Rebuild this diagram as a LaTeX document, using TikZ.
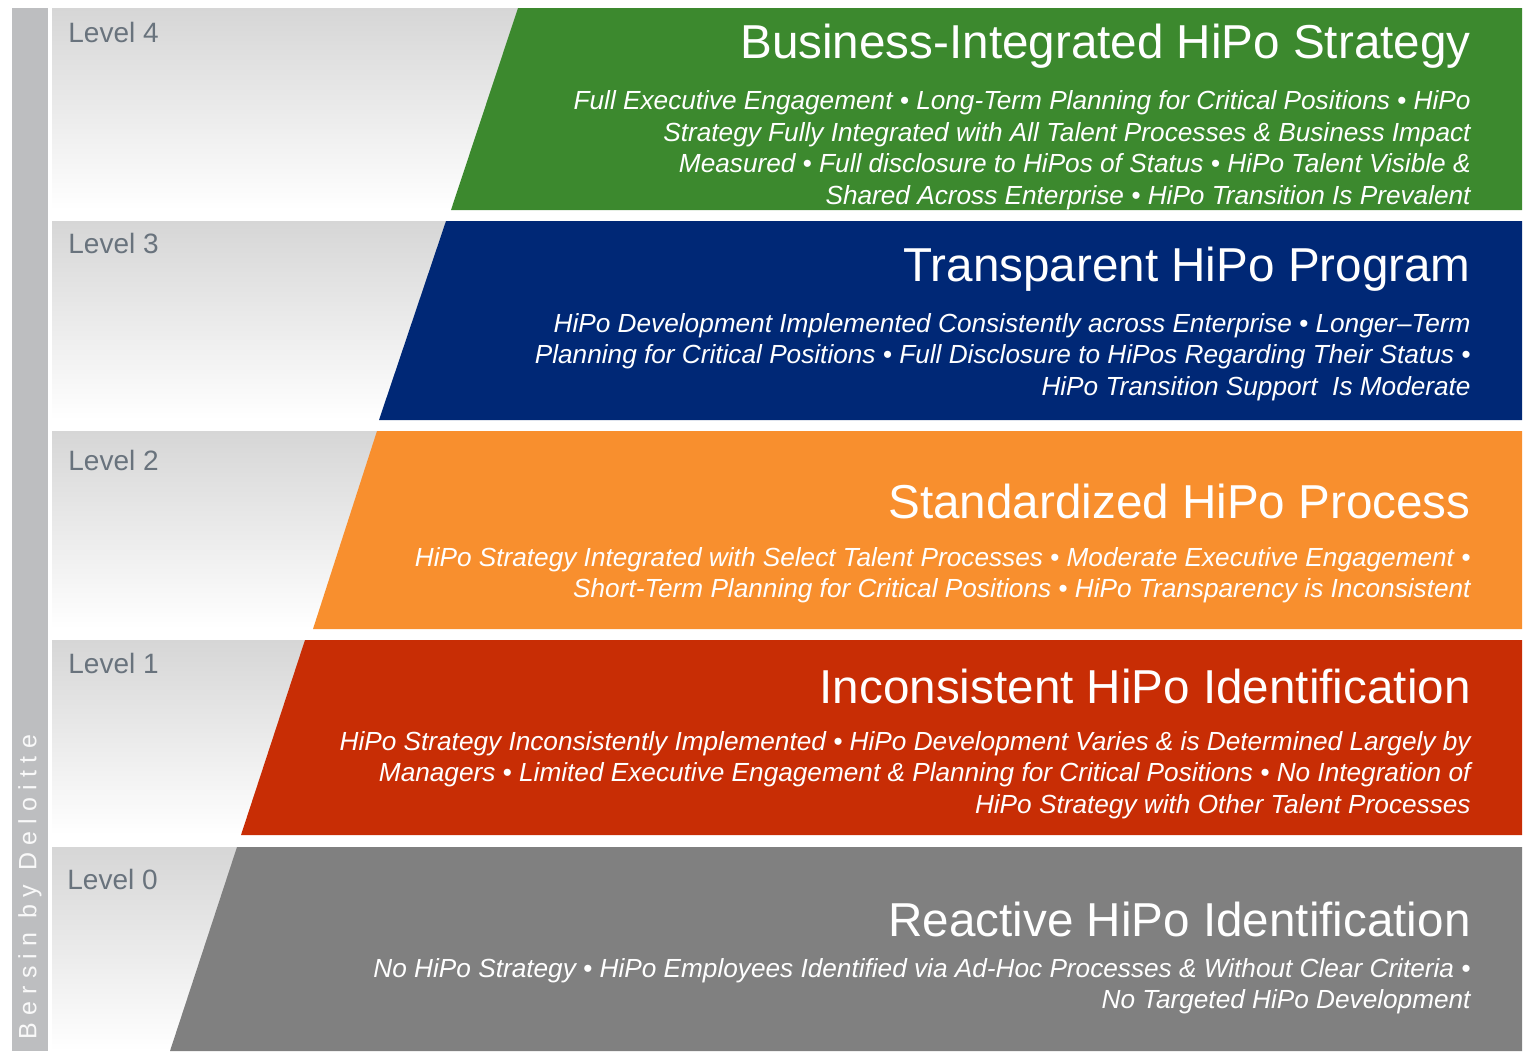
\documentclass[tikz,border=0pt]{standalone}
\usepackage{fontspec}
\setmainfont{Liberation Sans}
\usetikzlibrary{positioning}

\definecolor{lvlgreen}{RGB}{60,137,46}
\definecolor{lvlblue}{RGB}{0,40,118}
\definecolor{lvlorange}{RGB}{248,143,46}
\definecolor{lvlred}{RGB}{200,45,5}
\definecolor{lvlgrey}{RGB}{128,128,128}
\definecolor{panelgrey}{RGB}{214,214,214}
\definecolor{bargrey}{RGB}{189,190,192}
\definecolor{lvltext}{RGB}{105,115,125}

\begin{document}
\begin{tikzpicture}[x=0.5pt,
                    y=-0.5pt,
                    title/.style={anchor=east,inner sep=0pt,text=white,font=\fontsize{23.8}{28}\selectfont},
                    body/.style={anchor=east,inner sep=0pt,align=right,text=white,font=\fontsize{13.1}{15.75}\selectfont\itshape},
                    lvl/.style={anchor=west,inner sep=0pt,text=lvltext,font=\fontsize{14}{16}\selectfont}
                    ]
  \useasboundingbox (0,0) rectangle (1526,1051);
  % side bar
  \fill[bargrey] (12,8) rectangle (48,1051);
  \node[rotate=90,anchor=west,inner sep=0pt,text=white!95!gray,
        font=\fontsize{12.5}{14}\selectfont\addfontfeatures{LetterSpace=29}] (brand) at (30,1040) {Bersin by Deloitte};
  % bands
  \foreach \ya/\yb/\xa/\xb/\c in {8/210/518/451/lvlgreen,
                                   221/420/446/379/lvlblue,
                                   431/629/377/313/lvlorange,
                                   640/835/305/241/lvlred,
                                   847/1051/237/170/lvlgrey}{
    \shade[top color=panelgrey,bottom color=white] (52,\ya) rectangle (\xa+4,\yb);
    \fill[\c] (\xa,\ya) -- (1522,\ya) -- (1522,\yb) -- (\xb,\yb) -- cycle;
  }
  % level 4
  \node[lvl] (lvl4) at (68,32) {Level 4};
  \node[title] (title4) at (1471,46) {Business-Integrated HiPo Strategy};
  \node[body] (body4) at (1471,150) {Full Executive Engagement • Long-Term Planning for Critical Positions • HiPo\\
    Strategy Fully Integrated with All Talent Processes \& Business Impact\\
    Measured • Full disclosure to HiPos of Status • HiPo Talent Visible \&\\
    Shared Across Enterprise • HiPo Transition Is Prevalent};
  % level 3
  \node[lvl] (lvl3) at (68,243) {Level 3};
  \node[title] (title3) at (1471,269) {Transparent HiPo Program};
  \node[body] (body3) at (1471,357) {HiPo Development Implemented Consistently across Enterprise • Longer–Term\\
    Planning for Critical Positions • Full Disclosure to HiPos Regarding Their Status •\\
    HiPo Transition Support\ \ Is Moderate};
  % level 2
  \node[lvl] (lvl2) at (68,460) {Level 2};
  \node[title] (title2) at (1471,501) {Standardized HiPo Process};
  \node[body] (body2) at (1471,575) {HiPo Strategy Integrated with Select Talent Processes • Moderate Executive Engagement •\\
    Short-Term Planning for Critical Positions • HiPo Transparency is Inconsistent};
  % level 1
  \node[lvl] (lvl1) at (68,663) {Level 1};
  \node[title] (title1) at (1471,686) {Inconsistent HiPo Identification};
  \node[body] (body1) at (1471,775) {HiPo Strategy Inconsistently Implemented • HiPo Development Varies \& is Determined Largely by\\
    Managers • Limited Executive Engagement \& Planning for Critical Positions • No Integration of\\
    HiPo Strategy with Other Talent Processes};
  % level 0
  \node[lvl] (lvl0) at (67,879) {Level 0};
  \node[title] (title0) at (1471,919) {Reactive HiPo Identification};
  \node[body] (body0) at (1471,986) {No HiPo Strategy • HiPo Employees Identified via Ad-Hoc Processes \& Without Clear Criteria •\\
    No Targeted HiPo Development};
\end{tikzpicture}
\end{document}
